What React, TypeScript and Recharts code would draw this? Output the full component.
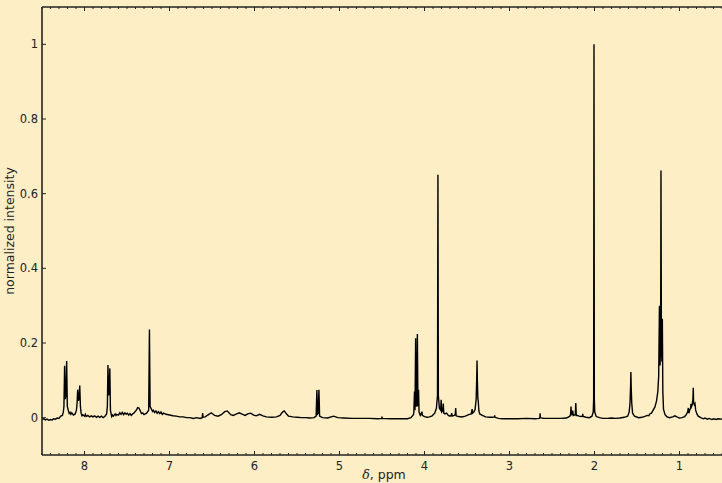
import { LineChart, Line, XAxis, YAxis } from "recharts";

// 1H NMR spectrum, chemical shift (ppm) vs normalized intensity

const aromaticRegion: [number, number][] = [
  [8.5, -0.004], [8.48, -0.003], [8.46, -0.006], [8.44, -0.004], [8.42, -0.007],
  [8.4, -0.005], [8.38, -0.006], [8.36, -0.003], [8.34, -0.004], [8.32, -0.001],
  [8.3, -0.002], [8.28, 0.004], [8.26, 0.006], [8.25, 0.014], [8.242, 0.03], [8.234, 0.139],
  [8.226, 0.05], [8.218, 0.06], [8.21, 0.152], [8.202, 0.03], [8.19, 0.019],
  [8.18, 0.011], [8.17, 0.014], [8.16, 0.009], [8.15, 0.013], [8.13, 0.007], [8.11, 0.01], [8.095, 0.02],
  [8.087, 0.04], [8.08, 0.075], [8.072, 0.045], [8.064, 0.05], [8.056, 0.086],
  [8.048, 0.03], [8.04, 0.012], [8.03, 0.005], [8.02, 0.008], [8.0, 0.004], [7.99, 0.009], [7.98, 0.003],
  [7.96, 0.006], [7.94, 0.002], [7.92, 0.005], [7.9, 0.002], [7.88, 0.005],
  [7.86, 0.001], [7.84, 0.004], [7.82, 0.001], [7.8, 0.004], [7.78, 0.0],
  [7.76, 0.004], [7.74, 0.01], [7.731, 0.03], [7.724, 0.141], [7.716, 0.06],
  [7.709, 0.07], [7.702, 0.132], [7.695, 0.02], [7.68, 0.003], [7.67, 0.007], [7.66, 0.004],
  [7.64, 0.01], [7.63, 0.006], [7.62, 0.009],
];

const olefinRegion: [number, number][] = [
  [7.6, 0.007], [7.585, 0.013], [7.57, 0.009], [7.555, 0.014], [7.54, 0.008], [7.525, 0.013],
  [7.51, 0.009], [7.495, 0.012], [7.48, 0.007], [7.465, 0.011],
  [7.45, 0.006], [7.435, 0.01], [7.42, 0.012], [7.39, 0.02], [7.375, 0.027], [7.36, 0.026],
  [7.345, 0.019], [7.33, 0.011], [7.315, 0.013], [7.3, 0.008], [7.27, 0.012], [7.245, 0.02],
  [7.236, 0.236], [7.228, 0.03], [7.21, 0.022], [7.2, 0.017], [7.19, 0.02], [7.175, 0.014], [7.16, 0.018],
  [7.145, 0.012], [7.13, 0.016], [7.115, 0.011], [7.1, 0.015], [7.085, 0.009], [7.07, 0.012], [7.04, 0.009], [7.0, 0.007],
  [6.96, 0.005], [6.92, 0.004], [6.88, 0.002], [6.84, 0.002], [6.8, 0.0],
  [6.76, 0.0], [6.72, -0.002], [6.68, 0.0], [6.64, -0.002], [6.615, 0.0],
  [6.61, 0.012], [6.605, 0.001], [6.58, 0.002], [6.55, 0.007], [6.51, 0.013],
  [6.47, 0.006], [6.43, 0.004], [6.39, 0.008], [6.35, 0.016], [6.32, 0.018],
  [6.28, 0.008], [6.25, 0.006], [6.21, 0.01], [6.18, 0.013], [6.14, 0.009],
  [6.11, 0.006], [6.08, 0.01], [6.045, 0.012], [6.01, 0.007], [5.98, 0.005],
  [5.94, 0.009], [5.9, 0.005], [5.86, 0.002], [5.8, 0.001], [5.74, 0.002],
  [5.7, 0.006], [5.67, 0.015], [5.65, 0.018], [5.63, 0.012], [5.6, 0.004],
  [5.55, 0.002], [5.5, 0.001], [5.45, 0.0], [5.4, 0.0], [5.35, -0.001],
  [5.3, 0.0], [5.275, 0.004], [5.266, 0.074], [5.258, 0.01], [5.25, 0.012],
  [5.242, 0.075], [5.234, 0.004], [5.2, 0.0], [5.14, -0.001], [5.07, 0.004],
  [5.02, 0.0], [4.95, -0.001], [4.85, -0.002], [4.75, -0.002], [4.65, -0.002],
  [4.55, -0.003], [4.503, -0.002], [4.5, 0.003], [4.497, -0.002], [4.4, -0.003],
  [4.3, -0.003], [4.2, -0.003], [4.16, 0.0],
];

const midRegion: [number, number][] = [
  [4.13, 0.008], [4.125, 0.015], [4.118, 0.07], [4.112, 0.02], [4.104, 0.213],
  [4.097, 0.03], [4.09, 0.035], [4.084, 0.224], [4.077, 0.03], [4.07, 0.075],
  [4.064, 0.015], [4.05, 0.006], [4.035, 0.012], [4.03, 0.016], [4.025, 0.006],
  [4.0, 0.003], [3.97, 0.001], [3.94, 0.002], [3.91, 0.005], [3.88, 0.012],
  [3.86, 0.025], [3.847, 0.06], [3.842, 0.651], [3.837, 0.06], [3.825, 0.025],
  [3.81, 0.02], [3.804, 0.048], [3.798, 0.015], [3.785, 0.018], [3.779, 0.038],
  [3.773, 0.012], [3.76, 0.01], [3.74, 0.012], [3.72, 0.006], [3.7, 0.004],
  [3.685, 0.006], [3.68, 0.012], [3.675, 0.004], [3.65, 0.006], [3.638, 0.008],
  [3.633, 0.026], [3.628, 0.005], [3.6, 0.003], [3.56, 0.002], [3.52, 0.004],
  [3.48, 0.008], [3.45, 0.01], [3.44, 0.023], [3.435, 0.012], [3.42, 0.015],
  [3.405, 0.022], [3.392, 0.05], [3.386, 0.1], [3.382, 0.153], [3.378, 0.1],
  [3.372, 0.05], [3.368, 0.046], [3.36, 0.018], [3.35, 0.01], [3.32, 0.006], [3.28, 0.002],
  [3.24, 0.001], [3.2, 0.001], [3.178, 0.002], [3.174, 0.006], [3.17, 0.001],
  [3.13, -0.002], [3.08, -0.003], [3.03, -0.003], [2.98, -0.003],
];

const aliphaticRegion: [number, number][] = [
  [2.9, -0.003], [2.8, -0.002], [2.7, -0.003], [2.65, -0.002], [2.643, 0.0],
  [2.64, 0.012], [2.637, 0.0], [2.6, -0.002], [2.5, -0.002], [2.4, -0.002],
  [2.33, -0.001], [2.29, 0.004], [2.281, 0.01], [2.276, 0.03], [2.271, 0.008],
  [2.262, 0.009], [2.256, 0.019], [2.25, 0.006], [2.226, 0.008], [2.22, 0.039],
  [2.214, 0.006], [2.2, 0.006], [2.19, 0.005], [2.18, 0.004], [2.16, 0.003],
  [2.142, 0.004], [2.138, 0.01], [2.134, 0.003], [2.1, 0.001], [2.06, 0.0],
  [2.03, 0.004], [2.015, 0.015], [2.01, 0.05], [2.006, 1.0], [2.002, 0.05],
  [1.997, 0.015], [1.98, 0.003], [1.94, 0.0], [1.9, -0.002], [1.85, -0.002],
  [1.8, -0.001], [1.75, -0.002], [1.7, -0.001], [1.65, 0.001], [1.61, 0.004],
  [1.592, 0.015], [1.582, 0.04], [1.576, 0.08], [1.572, 0.122], [1.568, 0.08],
  [1.562, 0.04], [1.552, 0.012], [1.53, 0.004], [1.48, 0.0], [1.44, 0.001],
  [1.4, 0.004], [1.38, 0.006], [1.36, 0.005], [1.35, 0.01], [1.33, 0.012],
  [1.31, 0.02], [1.29, 0.028], [1.27, 0.045], [1.255, 0.07], [1.245, 0.11],
  [1.236, 0.3], [1.229, 0.14], [1.222, 0.2], [1.218, 0.662], [1.213, 0.2],
  [1.207, 0.15], [1.202, 0.265], [1.196, 0.07], [1.188, 0.022], [1.17, 0.008],
  [1.15, 0.003], [1.12, 0.0], [1.08, 0.002], [1.055, 0.005], [1.03, 0.002],
  [1.0, -0.001], [0.97, 0.0], [0.94, 0.003], [0.92, 0.008], [0.905, 0.015],
  [0.896, 0.026], [0.89, 0.012], [0.88, 0.02], [0.87, 0.025], [0.865, 0.037],
  [0.858, 0.03], [0.85, 0.035], [0.842, 0.05], [0.838, 0.08], [0.834, 0.04],
  [0.826, 0.035], [0.818, 0.038], [0.81, 0.02], [0.795, 0.01], [0.78, 0.004],
  [0.75, 0.0], [0.72, -0.003], [0.7, -0.001], [0.67, -0.004], [0.65, -0.002],
  [0.62, -0.005], [0.6, -0.003], [0.57, -0.005], [0.55, -0.003], [0.5, -0.004],
];

const majorPpmTicks = [8, 7, 6, 5, 4, 3, 2, 1];
const intensityTicks = [0, 0.2, 0.4, 0.6, 0.8, 1];

const spectrum = [...aromaticRegion, ...olefinRegion, ...midRegion, ...aliphaticRegion].map(
  ([ppm, intensity]) => ({ ppm, intensity })
);

// minor ticks every 0.1 ppm across the frame
const ppmTicks = Array.from({ length: 81 }, (_, i) => Math.round((0.5 + i * 0.1) * 10) / 10);

const LEFT = 42;
const RIGHT = 722;
const TOP = 7;
const BOTTOM = 455;
const FRAME = "#222";
const TEXT = "#222";
const FONT = "DejaVu Sans, sans-serif";

function BottomTick(props: any) {
  const { x, payload } = props;
  const major = majorPpmTicks.includes(payload.value);
  return (
    <g>
      <line x1={x} x2={x} y1={BOTTOM} y2={BOTTOM - (major ? 4 : 2)} stroke={FRAME} strokeWidth={1} />
      {major && (
        <text x={x} y={470} textAnchor="middle" fontSize={11.5} fontFamily={FONT} fill={TEXT}>
          {payload.value}
        </text>
      )}
    </g>
  );
}

function TopTick(props: any) {
  const { x, payload } = props;
  const major = majorPpmTicks.includes(payload.value);
  return <line x1={x} x2={x} y1={TOP} y2={TOP + (major ? 4 : 2)} stroke={FRAME} strokeWidth={1} />;
}

function LeftTick(props: any) {
  const { y, payload } = props;
  return (
    <g>
      <line x1={LEFT} x2={LEFT + 4} y1={y} y2={y} stroke={FRAME} strokeWidth={1} />
      <text x={LEFT - 4} y={y + 4} textAnchor="end" fontSize={11.5} fontFamily={FONT} fill={TEXT}>
        {String(payload.value)}
      </text>
    </g>
  );
}

function RightTick(props: any) {
  const { y } = props;
  return <line x1={RIGHT} x2={RIGHT - 4} y1={y} y2={y} stroke={FRAME} strokeWidth={1} />;
}

export default function App() {
  return (
    <div style={{ position: "absolute", left: 0, top: 0, width: 722, height: 483, overflow: "hidden", background: "#fdeec6" }}>
      <LineChart width={724} height={483} data={spectrum} margin={{ top: 0, right: 0, bottom: 0, left: 0 }}>
        <XAxis
          xAxisId="bottom"
          dataKey="ppm"
          type="number"
          domain={[0.5, 8.5]}
          reversed
          ticks={ppmTicks}
          interval={0}
          height={28}
          tickSize={0}
          tickMargin={0}
          tick={<BottomTick />}
          axisLine={{ stroke: FRAME, strokeWidth: 1.6 }}
          label={{
            content: () => (
              <text x={384} y={479} textAnchor="middle" fontSize={12.5} fontFamily={FONT} fill={TEXT}>
                <tspan fontStyle="italic" fontFamily="DejaVu Serif, serif">δ</tspan>
                <tspan>, ppm</tspan>
              </text>
            ),
          }}
        />
        <XAxis
          xAxisId="top"
          orientation="top"
          dataKey="ppm"
          type="number"
          domain={[0.5, 8.5]}
          reversed
          ticks={ppmTicks}
          interval={0}
          height={TOP}
          tickSize={0}
          tickMargin={0}
          tick={<TopTick />}
          axisLine={{ stroke: FRAME, strokeWidth: 1.6 }}
        />
        <YAxis
          yAxisId="left"
          type="number"
          domain={[-0.1, 1.1]}
          ticks={intensityTicks}
          interval={0}
          width={LEFT}
          tickSize={0}
          tickMargin={0}
          tick={<LeftTick />}
          axisLine={{ stroke: FRAME, strokeWidth: 1.6 }}
          label={{
            content: () => (
              <text
                x={14}
                y={231}
                transform="rotate(-90 14 231)"
                textAnchor="middle"
                fontSize={12.5}
                fontFamily={FONT}
                fill={TEXT}
              >
                normalized intensity
              </text>
            ),
          }}
        />
        <YAxis
          yAxisId="right"
          orientation="right"
          type="number"
          domain={[-0.1, 1.1]}
          ticks={intensityTicks}
          interval={0}
          width={2}
          tickSize={0}
          tickMargin={0}
          tick={<RightTick />}
          axisLine={false}
        />
        <Line
          xAxisId="bottom"
          yAxisId="left"
          type="linear"
          dataKey="intensity"
          stroke="#000"
          strokeWidth={1.4}
          dot={false}
          isAnimationActive={false}
        />
      </LineChart>
    </div>
  );
}
